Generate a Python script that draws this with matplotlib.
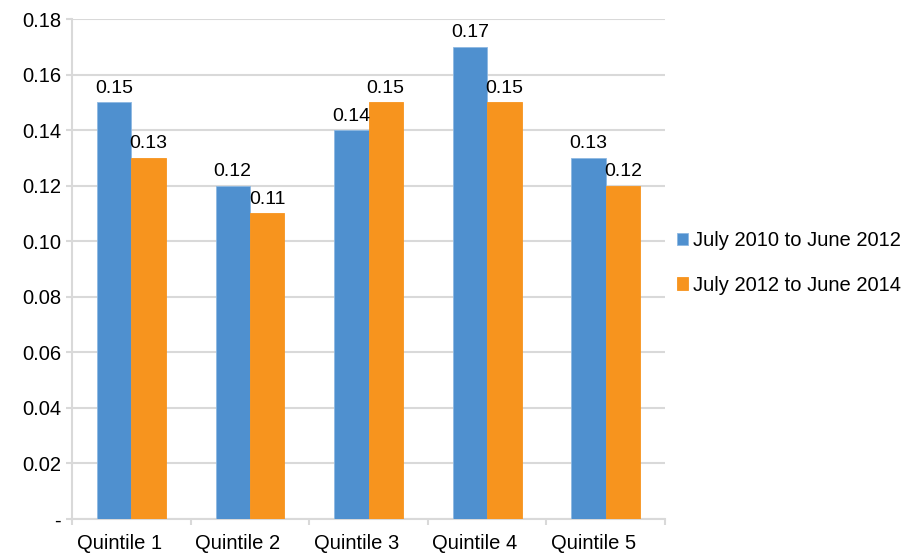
import matplotlib.pyplot as plt
import matplotlib.transforms as mtransforms
import numpy as np

plt.rcParams['font.family'] = ['Liberation Sans', 'DejaVu Sans']

categories = ["Quintile 1", "Quintile 2", "Quintile 3", "Quintile 4", "Quintile 5"]
series_names = ["July 2010 to June 2012", "July 2012 to June 2014"]
period1 = [0.15, 0.12, 0.14, 0.17, 0.13]
period2 = [0.13, 0.11, 0.15, 0.15, 0.12]
y_ticks = [0, 0.02, 0.04, 0.06, 0.08, 0.10, 0.12, 0.14, 0.16, 0.18]
y_tick_labels = ["-", "0.02", "0.04", "0.06", "0.08", "0.10", "0.12", "0.14", "0.16", "0.18"]

blue = "#4F90CF"
orange = "#F7941E"
grid_col = "#D9D9D9"

fig = plt.figure(figsize=(9.23, 5.53), dpi=100)
ax = fig.add_axes([0.078, 0.0615, 0.6425, 0.904])

x = np.arange(len(categories))
w = 0.29
b1 = ax.bar(x - w / 2, period1, w, color=blue, edgecolor="#8DB8E2", linewidth=0.6,
            label=series_names[0], zorder=3)
b2 = ax.bar(x + w / 2, period2, w, color=orange, edgecolor=orange, linewidth=0.6,
            label=series_names[1], zorder=3)

for bars, vals in ((b1, period1), (b2, period2)):
    for r, v in zip(bars, vals):
        ax.annotate(f"{v:.2f}", (r.get_x() + r.get_width() / 2, v),
                    xytext=(0, 4), textcoords="offset points",
                    ha="center", va="bottom", fontsize=14)

ax.set_ylim(0, 0.18)
ax.set_xlim(-0.5, len(categories) - 0.5)
ax.set_yticks(y_ticks)
ax.set_yticklabels(y_tick_labels, fontsize=14.5)
ax.yaxis.grid(True, color=grid_col, linewidth=1.5, zorder=0)
ax.set_axisbelow(True)

ax.set_xticks(x)
ax.set_xticklabels(categories, fontsize=14.5)
ax.tick_params(axis="x", length=0, pad=11)
# category labels sit a little left of the group centre in the original
shift = mtransforms.ScaledTranslation(-12 / 100, 0, fig.dpi_scale_trans)
for lbl in ax.get_xticklabels():
    lbl.set_transform(lbl.get_transform() + shift)
ax.set_xticks(np.arange(-0.5, len(categories)), minor=True)
ax.tick_params(axis="x", which="minor", length=4, width=1.5, color=grid_col)
ax.tick_params(axis="y", length=4, width=1.5, color=grid_col, pad=4)

for s in ["top", "right"]:
    ax.spines[s].set_visible(False)
for s in ["left", "bottom"]:
    ax.spines[s].set_color(grid_col)
    ax.spines[s].set_linewidth(1.5)

ax.legend(loc="center left", bbox_to_anchor=(0.99, 0.512), frameon=False,
          fontsize=14.5, handlelength=0.55, handleheight=0.55, handletextpad=0.25,
          labelspacing=1.25)

fig.savefig("out.png", dpi=100)
